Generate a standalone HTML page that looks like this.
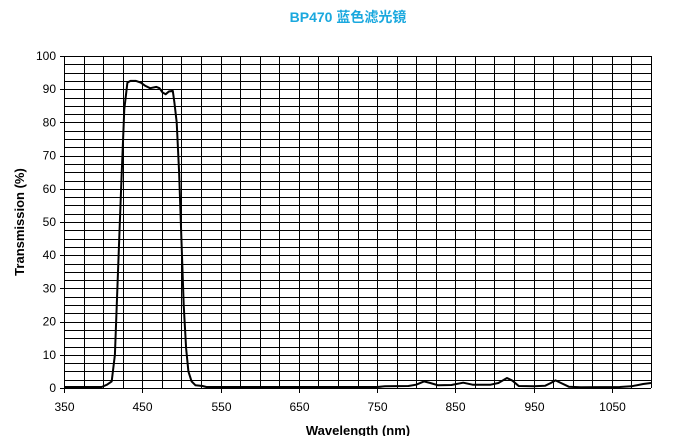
<!DOCTYPE html>
<html><head><meta charset="utf-8"><style>
html,body{margin:0;padding:0;background:#fff;width:696px;height:436px;overflow:hidden}
svg text{font-family:"Liberation Sans","Noto Sans CJK SC",sans-serif}
</style></head><body>
<svg id="s" width="696" height="436" xmlns="http://www.w3.org/2000/svg">
<text x="348" y="22" text-anchor="middle" font-size="14" font-weight="bold" fill="#1aa8de">BP470 蓝色滤光镜</text>
<g id="grid" stroke="#000" stroke-width="1" shape-rendering="crispEdges"></g>
<g id="lab" font-size="12" fill="#000"></g>
<text transform="translate(24,222) rotate(-90)" text-anchor="middle" font-size="13" font-weight="bold">Transmission (%)</text>
<text x="358" y="435" text-anchor="middle" font-size="13" font-weight="bold">Wavelength (nm)</text>
<path id="curve" fill="none" stroke="#000" stroke-width="2" stroke-linejoin="round"/>
</svg>
<script>
var L=64,R=651,T=56,B=388;
function X(w){return L+(w-350)*(R-L)/750}
function Y(v){return B-v*(B-T)/100}
var g=document.getElementById('grid'),lab=document.getElementById('lab'),h='',t='';
for(var i=0;i<=40;i++){var y=Math.round(T+i*(B-T)/40)+.5;h+='<line x1="'+L+'" x2="'+R+'" y1="'+y+'" y2="'+y+'"/>';}
for(var i=0;i<=30;i++){var x=Math.round(L+i*(R-L)/30)+.5;h+='<line y1="'+T+'" y2="'+B+'" x1="'+x+'" x2="'+x+'"/>';}
for(var v=0;v<=100;v+=10){var y=Y(v);h+='<line x1="'+(L-4)+'" x2="'+L+'" y1="'+(Math.round(y)+.5)+'" y2="'+(Math.round(y)+.5)+'"/>';t+='<text x="'+(L-8)+'" y="'+(y+4)+'" text-anchor="end">'+v+'</text>';}
for(var w=350;w<=1050;w+=100){var x=Math.round(X(w))+.5;h+='<line y1="'+B+'" y2="'+(B+5)+'" x1="'+x+'" x2="'+x+'"/>';t+='<text x="'+x+'" y="'+(B+23)+'" text-anchor="middle">'+w+'</text>';}
g.innerHTML=h;lab.innerHTML=t;
var d=[[350,0.3],[398,0.3],[405,1],[411,2],[415,10],[419,35],[423,60],[427,84],[431,92],[435,92.5],[442,92.5],[448,92],[454,91],[460,90.3],[468,90.7],[472,90.3],[476,89],[480,88.5],[484,89.3],[489,89.5],[491,86],[494,80],[497,65],[500,45],[503,25],[506,12],[509,5],[513,2],[518,0.8],[527,0.6],[532,0.3],[750,0.3],[760,0.5],[790,0.6],[800,1],[810,2],[818,1.5],[828,0.8],[845,0.9],[860,1.6],[872,1],[895,1],[905,1.5],[916,3],[923,2.2],[931,0.6],[950,0.5],[965,0.7],[972,1.5],[978,2.3],[985,1.5],[995,0.4],[1010,0.2],[1060,0.3],[1075,0.5],[1090,1.2],[1100,1.5]];
var p='';d.forEach(function(q,i){p+=(i?'L':'M')+X(q[0]).toFixed(1)+' '+Y(q[1]).toFixed(1)});
document.getElementById('curve').setAttribute('d',p);
</script>
</body></html>
